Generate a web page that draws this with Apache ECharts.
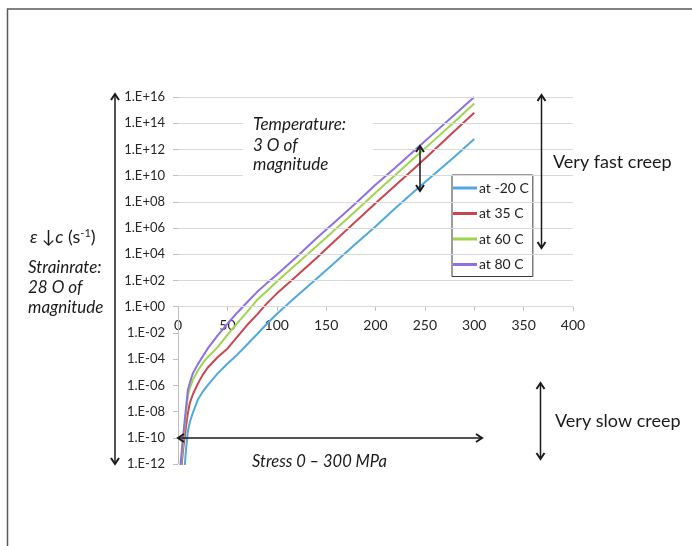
<!DOCTYPE html>
<html>
<head>
<meta charset="utf-8">
<script src="https://cdn.jsdelivr.net/npm/echarts@6.0.0/dist/echarts.min.js"></script>
<style>
html, body { margin: 0; padding: 0; background: #fff; }
#chart { width: 692px; height: 546px; }
</style>
</head>
<body>
<div id="chart"></div>
<script>
// stress (MPa) sampled along the curves
var stress = [2, 5, 8, 10, 12, 15, 20, 25, 30, 40, 50, 60, 70, 80, 90, 100, 120, 140, 160, 180, 200, 220, 240, 260, 280, 300];

// strain rate (1/s)
var rateM20 = [1e-15, 1e-14, 1e-11, 3.2e-10, 1.6e-9, 7.9e-9, 7.9e-8, 3.2e-7, 1.0e-6, 7.9e-6, 4.5e-5, 2.2e-4, 1.3e-3, 7.9e-3, 0.05, 0.28, 6.3, 130, 2800, 6.3e4, 1.3e6, 3.2e7, 7.1e8, 1.4e10, 2.8e11, 6.3e12];
var rate35 = [3.2e-14, 1e-11, 6.3e-10, 7.9e-9, 4.5e-8, 2.0e-7, 1.3e-6, 6.3e-6, 2.2e-5, 1.4e-4, 6.3e-4, 5.0e-3, 0.040, 0.25, 1.8, 10, 220, 5000, 1.3e5, 3.2e6, 7.9e7, 1.8e9, 4.0e10, 1.0e12, 2.5e13, 6.3e14];
var rate60 = [1e-13, 3.2e-11, 6.3e-9, 1.6e-7, 6.3e-7, 2.5e-6, 1.3e-5, 5.0e-5, 1.4e-4, 7.9e-4, 7.1e-3, 0.056, 0.40, 3.2, 16, 79, 1800, 4.0e4, 8.9e5, 2.0e7, 5.0e8, 1.1e10, 2.5e11, 5.6e12, 1.3e14, 3.2e15];
var rate80 = [3.2e-13, 1e-10, 1.6e-8, 4.5e-7, 1.6e-6, 7.9e-6, 4.0e-5, 1.6e-4, 6.3e-4, 6.3e-3, 0.05, 0.35, 2.2, 13, 63, 280, 6300, 1.6e5, 3.5e6, 7.9e7, 2.0e9, 4.0e10, 8.9e11, 2.0e13, 4.5e14, 1.0e16];

var seriesNames = ['at -20 C', 'at 35 C', 'at 60 C', 'at 80 C'];
var seriesColors = ['#4ea9e0', '#c8464f', '#9fd54b', '#8d70e2'];

var xTicks = [0, 50, 100, 150, 200, 250, 300, 350, 400];
var yTicks = [1e-12, 1e-10, 1e-8, 1e-6, 1e-4, 1e-2, 1, 1e2, 1e4, 1e6, 1e8, 1e10, 1e12, 1e14, 1e16];
var yTickLabels = ['1.E-12', '1.E-10', '1.E-08', '1.E-06', '1.E-04', '1.E-02', '1.E+00', '1.E+02', '1.E+04', '1.E+06', '1.E+08', '1.E+10', '1.E+12', '1.E+14', '1.E+16'];

var font = 'Lato, "Open Sans", sans-serif';
var ink = '#1a1a1a';
var axisGrey = '#bfbfbf';
var gridGrey = '#d9d9d9';

var chart = echarts.init(document.getElementById('chart'), null, { renderer: 'canvas' });

var gridTop = 97, gridBottom = 464, gridLeft = 178, gridRight = 573;
var decades = Math.log10(yTicks[yTicks.length - 1]) - Math.log10(yTicks[0]);
var zeroLineOffset = (gridBottom - gridTop) * (0 - Math.log10(yTicks[0])) / decades;

function vArrow(x, y1, y2) {
    return {
        type: 'group', z: 50,
        children: [
            { type: 'line', shape: { x1: x, y1: y1 + 1, x2: x, y2: y2 - 1 }, style: { stroke: ink, lineWidth: 1.5 }, z: 50 },
            { type: 'polyline', shape: { points: [[x - 4, y1 + 6], [x, y1], [x + 4, y1 + 6]] }, style: { stroke: ink, lineWidth: 2, fill: null }, z: 50 },
            { type: 'polyline', shape: { points: [[x - 4, y2 - 6], [x, y2], [x + 4, y2 - 6]] }, style: { stroke: ink, lineWidth: 2, fill: null }, z: 50 }
        ]
    };
}
function hArrow(y, x1, x2) {
    return {
        type: 'group', z: 50,
        children: [
            { type: 'line', shape: { x1: x1 + 1, y1: y, x2: x2 - 1, y2: y }, style: { stroke: ink, lineWidth: 1.5 }, z: 50 },
            { type: 'polyline', shape: { points: [[x1 + 6, y - 4], [x1, y], [x1 + 6, y + 4]] }, style: { stroke: ink, lineWidth: 2, fill: null }, z: 50 },
            { type: 'polyline', shape: { points: [[x2 - 6, y - 4], [x2, y], [x2 - 6, y + 4]] }, style: { stroke: ink, lineWidth: 2, fill: null }, z: 50 }
        ]
    };
}
function label(x, y, text, size, italic) {
    return {
        type: 'text', x: x, y: y, z: 60,
        style: { text: text, fill: ink, fontFamily: font, fontSize: size, fontStyle: italic ? 'italic' : 'normal', verticalAlign: 'middle', lineHeight: 20 }
    };
}

var series = [{
    type: 'line',
    data: [],
    silent: true,
    z: 1,
    markLine: {
        silent: true,
        symbol: ['none', 'none'],
        animation: false,
        label: { show: false },
        emphasis: { disabled: true },
        lineStyle: { color: gridGrey, width: 1, type: 'solid' },
        data: yTicks.filter(function (v) { return v >= 1; }).map(function (v) { return { yAxis: v }; }).concat([
            [{ coord: [0, yTicks[0]], lineStyle: { color: axisGrey } }, { coord: [0, 1] }]
        ])
    }
}];

seriesNames.forEach(function (name, k) {
    var vals = [rateM20, rate35, rate60, rate80][k];
    series.push({
        name: name,
        type: 'line',
        data: stress.map(function (s, i) { return [s, vals[i]]; }),
        showSymbol: false,
        symbol: 'none',
        clip: true,
        z: 3,
        lineStyle: { color: seriesColors[k], width: 2 },
        itemStyle: { color: seriesColors[k] }
    });
});

var option = {
    animation: false,
    backgroundColor: '#fff',
    textStyle: { fontFamily: font },
    grid: { left: gridLeft, top: gridTop, width: gridRight - gridLeft, height: gridBottom - gridTop },
    legend: {
        data: seriesNames,
        orient: 'vertical',
        left: 452,
        top: 175,
        icon: 'rect',
        itemWidth: 24,
        itemHeight: 3,
        itemGap: 9.5,
        padding: [5, 4, 4, 1],
        borderColor: '#3a3a3a',
        borderWidth: 1,
        backgroundColor: '#fff',
        textStyle: { color: '#222', fontSize: 14, fontFamily: font, lineHeight: 16, padding: [0, 0, 0, -3] }
    },
    xAxis: {
        type: 'value',
        min: xTicks[0],
        max: xTicks[xTicks.length - 1],
        interval: xTicks[1] - xTicks[0],
        position: 'bottom',
        offset: -zeroLineOffset,
        axisLine: { lineStyle: { color: axisGrey } },
        axisTick: { show: true, length: 4, lineStyle: { color: axisGrey } },
        axisLabel: { color: '#262626', fontSize: 14, fontFamily: font, margin: 12 },
        splitLine: { show: false }
    },
    yAxis: {
        type: 'log',
        logBase: 10,
        min: yTicks[0],
        max: yTicks[yTicks.length - 1],
        interval: 2,
        axisLine: { show: false },
        axisTick: { show: true, length: 5, lineStyle: { color: axisGrey } },
        splitLine: { show: false },
        axisLabel: {
            color: '#262626', fontSize: 13, fontFamily: font, margin: 13,
            formatter: function (v) {
                var e = Math.log10(v);
                for (var i = 0; i < yTicks.length; i++) {
                    if (Math.abs(Math.log10(yTicks[i]) - e) < 0.01) return yTickLabels[i];
                }
                return '';
            }
        }
    },
    series: series,
    graphic: { elements: [
        { type: 'rect', z: 40, shape: { x: 7.5, y: 9, width: 720, height: 560 }, style: { fill: null, stroke: '#5a5a5a', lineWidth: 1.5 } },
        { type: 'rect', z: 40, shape: { x: 243, y: 111, width: 130, height: 70 }, style: { fill: '#fff', stroke: null } },
        label(253, 125, 'Temperature:', 17, true),
        label(253, 146, '3 O of', 17, true),
        label(253, 165, 'magnitude', 17, true),
        {
            type: 'text', x: 30, y: 237, z: 60,
            style: {
                text: '{i|ε ↓c} (s{sup|-1})',
                fill: ink, fontFamily: font, fontSize: 18, verticalAlign: 'middle',
                rich: {
                    i: { fontStyle: 'italic', fontSize: 18, fontFamily: font, fill: ink },
                    sup: { fontSize: 11, fontFamily: font, fill: ink, verticalAlign: 'top', padding: [0, 0, 8, 0] }
                }
            }
        },
        label(28, 268, 'Strainrate:', 17, true),
        label(28, 288, '28 O of', 17, true),
        label(28, 308, 'magnitude', 17, true),
        label(252, 462, 'Stress 0 \u2013 300 MPa', 16.5, true),
        label(553, 162, 'Very fast creep', 18, false),
        label(555, 421, 'Very slow creep', 18, false),
        vArrow(115, 94, 464),
        hArrow(438, 178, 482),
        vArrow(420, 146, 191),
        vArrow(541.5, 95, 248),
        vArrow(540.5, 383, 459)
    ] }
};

chart.setOption(option);
window.addEventListener('resize', function () { chart.resize(); });
</script>
</body>
</html>
